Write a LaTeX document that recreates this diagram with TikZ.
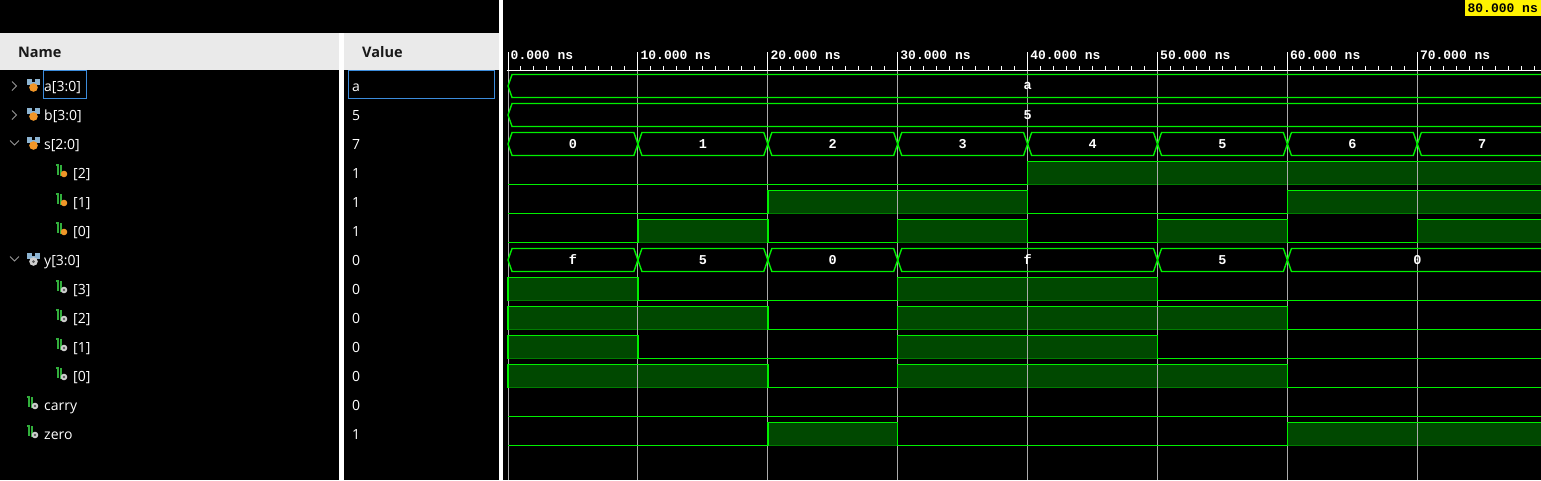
\documentclass[tikz,border=0pt]{standalone}
\usepackage{fontspec}
\setmainfont{Open Sans}
\newfontfamily\wavefont{Liberation Mono}
\definecolor{wavegreen}{RGB}{0,240,0}
\definecolor{wavefill}{RGB}{0,72,0}
\definecolor{waveedge}{RGB}{0,125,0}
\definecolor{gridgray}{RGB}{170,170,170}
\definecolor{headgray}{RGB}{234,234,234}
\definecolor{headtext}{RGB}{25,25,25}
\definecolor{selblue}{RGB}{60,140,220}
\definecolor{iconblue}{RGB}{140,180,210}
\definecolor{iconorange}{RGB}{240,150,40}
\definecolor{icongray}{RGB}{205,205,205}
\definecolor{icondark}{RGB}{90,90,90}
\definecolor{bitgreen}{RGB}{50,175,60}
\definecolor{chevgray}{RGB}{150,150,150}

\begin{document}
\begin{tikzpicture}[x=1pt, y=-1pt,
    sig/.style = {draw=wavegreen, line width=1.4pt},
    hifill/.style = {fill=wavefill, draw=waveedge, line width=1.4pt},
    gridline/.style = {draw=gridgray, line width=1pt},
    namelbl/.style = {text=white, anchor=base west, inner sep=0pt, font=\fontsize{14}{16}\selectfont},
    headlbl/.style = {text=headtext, anchor=base west, inner sep=0pt, font=\bfseries\fontsize{14.5}{16}\selectfont},
    buslbl/.style = {text=white, inner sep=0pt, font=\wavefont\bfseries\fontsize{13.5}{13.5}\selectfont},
    rulerlbl/.style = {text=white, anchor=base west, inner sep=0pt, font=\wavefont\bfseries\fontsize{13}{13}\selectfont},
    chev/.style = {draw=chevgray, line width=1pt},
    bitstroke/.style = {draw=bitgreen, line width=1.3pt}]
    \fill[black] (0,0) rectangle (1541,480);
    \useasboundingbox (0,0) rectangle (1541,480);

    % name and value panes
    \fill[headgray] (0,33) rectangle (339,70);
    \fill[headgray] (344,33) rectangle (499,70);
    \fill[white] (339,33) rectangle (344,480);
    \fill[white] (499,0) rectangle (503,480);
    \node[headlbl] (namehead) at (18,57) {Name};
    \node[headlbl] (valuehead) at (362,57) {Value};

    \foreach \i/\x/\t/\v in {0/44/a[3:0]/a, 1/44/b[3:0]/5, 2/44/s[2:0]/7, 3/73/[2]/1, 4/73/[1]/1, 5/73/[0]/1,
        6/44/y[3:0]/0, 7/73/[3]/0, 8/73/[2]/0, 9/73/[1]/0, 10/73/[0]/0, 11/44/carry/0, 12/44/zero/1} {
        \node[namelbl] (n\i) at (\x,91+29*\i) {\t};
        \node[namelbl] (v\i) at (352,91+29*\i) {\v};
    }
    \draw[selblue, line width=1pt] (43.5,70.5) rectangle (86.5,98.5);
    \draw[selblue, line width=1pt] (348.5,70.5) rectangle (494.5,98.5);

    % tree arrows and icons
    \foreach \c in {86,115} \draw[chev] (12,\c-4.5) -- (16.5,\c) -- (12,\c+4.5);
    \foreach \c in {144,260} \draw[chev] (10,\c-3.5) -- (14.5,\c+1) -- (19,\c-3.5);
    \foreach \c/\col in {86/iconorange, 115/iconorange, 144/iconorange, 260/icongray} {
        \fill[iconblue] (27,\c-7) rectangle (32,\c-1);
        \fill[iconblue] (35,\c-7) rectangle (40,\c-1);
        \fill[iconblue] (31,\c-4) rectangle (36,\c-1);
        \fill[\col] (33.5,\c+1.5) circle (4.3);
    }
    \fill[icondark] (33.5,261.5) circle (1.5);
    \foreach \x/\c/\col in {57/173/iconorange, 57/202/iconorange, 57/231/iconorange, 57/289/icongray,
        57/318/icongray, 57/347/icongray, 57/376/icongray, 28/405/icongray, 28/434/icongray} {
        \draw[bitstroke] (\x-1,\c-8) -- (\x+1,\c-8) -- (\x+1,\c+2);
        \draw[bitstroke] (\x+4,\c-8) -- (\x+4,\c+2) -- (\x+6,\c+2);
        \fill[\col] (\x+7,\c+1) circle (3.3);
    }
    \foreach \x/\c in {57/289, 57/318, 57/347, 57/376, 28/405, 28/434}
        \fill[icondark] (\x+7,\c+1) circle (1.3);

    % cursor time
    \node[fill=yellow, text=black, anchor=north east, inner xsep=3pt, inner ysep=0pt, minimum height=16pt,
        font=\wavefont\bfseries\fontsize{13}{13}\selectfont] (cursor) at (1541,0) {80.000 ns};

    % waveforms, 1ns = 12.99px
    \begin{scope}
    \clip (504,0) rectangle (1541,480);
    \begin{scope}[shift={(508,0)}, x=12.99pt]
        \foreach \c/\a/\b in {173/40/80, 202/20/40, 202/60/80, 231/10/20, 231/30/40, 231/50/60, 231/70/80,
            289/0/10, 289/30/50, 318/0/20, 318/30/60, 347/0/10, 347/30/50, 376/0/20, 376/30/60, 434/20/30, 434/60/80}
            \filldraw[hifill] (\a,\c-11.5) rectangle (\b,\c+11.5);
        \foreach \t in {0,10,...,70} \draw[gridline] (\t,71) -- (\t,480);

        % ruler
        \draw[white, line width=1.3pt] (-0.1,70.5) -- (80,70.5);
        \foreach \t in {1,...,79} \draw[white, line width=1pt] (\t,66) -- (\t,70.5);
        \foreach \t in {0,10,...,70} {
            \draw[white, line width=1pt] (\t,52) -- (\t,70.5);
            \node[rulerlbl, xshift=2.5pt] (t\t) at (\t,59.3) {\t.000 ns};
        }

        % buses
        \foreach \c/\a/\b/\v in {86/0/80/a, 115/0/80/5,
            144/0/10/0, 144/10/20/1, 144/20/30/2, 144/30/40/3, 144/40/50/4, 144/50/60/5, 144/60/70/6, 144/70/80/7,
            260/0/10/f, 260/10/20/5, 260/20/30/0, 260/30/50/f, 260/50/60/5, 260/60/80/0} {
            \draw[sig] (\a,\c) -- (\a+0.31,\c-11.5) -- (\b-0.31,\c-11.5) -- (\b,\c)
                -- (\b-0.31,\c+11.5) -- (\a+0.31,\c+11.5) -- cycle;
            \node[buslbl] (b\c-\a) at ({(\a+\b)/2},\c) {\v};
        }

        % bits
        \draw[sig] (0,184.5) -| (40,161.5) -- (80,161.5);
        \draw[sig] (0,213.5) -| (20,190.5) -| (40,213.5) -| (60,190.5) -- (80,190.5);
        \draw[sig] (0,242.5) -| (10,219.5) -| (20,242.5) -| (30,219.5) -| (40,242.5) -| (50,219.5)
            -| (60,242.5) -| (70,219.5) -- (80,219.5);
        \draw[sig] (0,300.5) -- (0,277.5) -| (10,300.5) -| (30,277.5) -| (50,300.5) -- (80,300.5);
        \draw[sig] (0,329.5) -- (0,306.5) -| (20,329.5) -| (30,306.5) -| (60,329.5) -- (80,329.5);
        \draw[sig] (0,358.5) -- (0,335.5) -| (10,358.5) -| (30,335.5) -| (50,358.5) -- (80,358.5);
        \draw[sig] (0,387.5) -- (0,364.5) -| (20,387.5) -| (30,364.5) -| (60,387.5) -- (80,387.5);
        \draw[sig] (0,416.5) -- (80,416.5);
        \draw[sig] (0,445.5) -| (20,422.5) -| (30,445.5) -| (60,422.5) -- (80,422.5);
    \end{scope}
    \end{scope}
\end{tikzpicture}
\end{document}
